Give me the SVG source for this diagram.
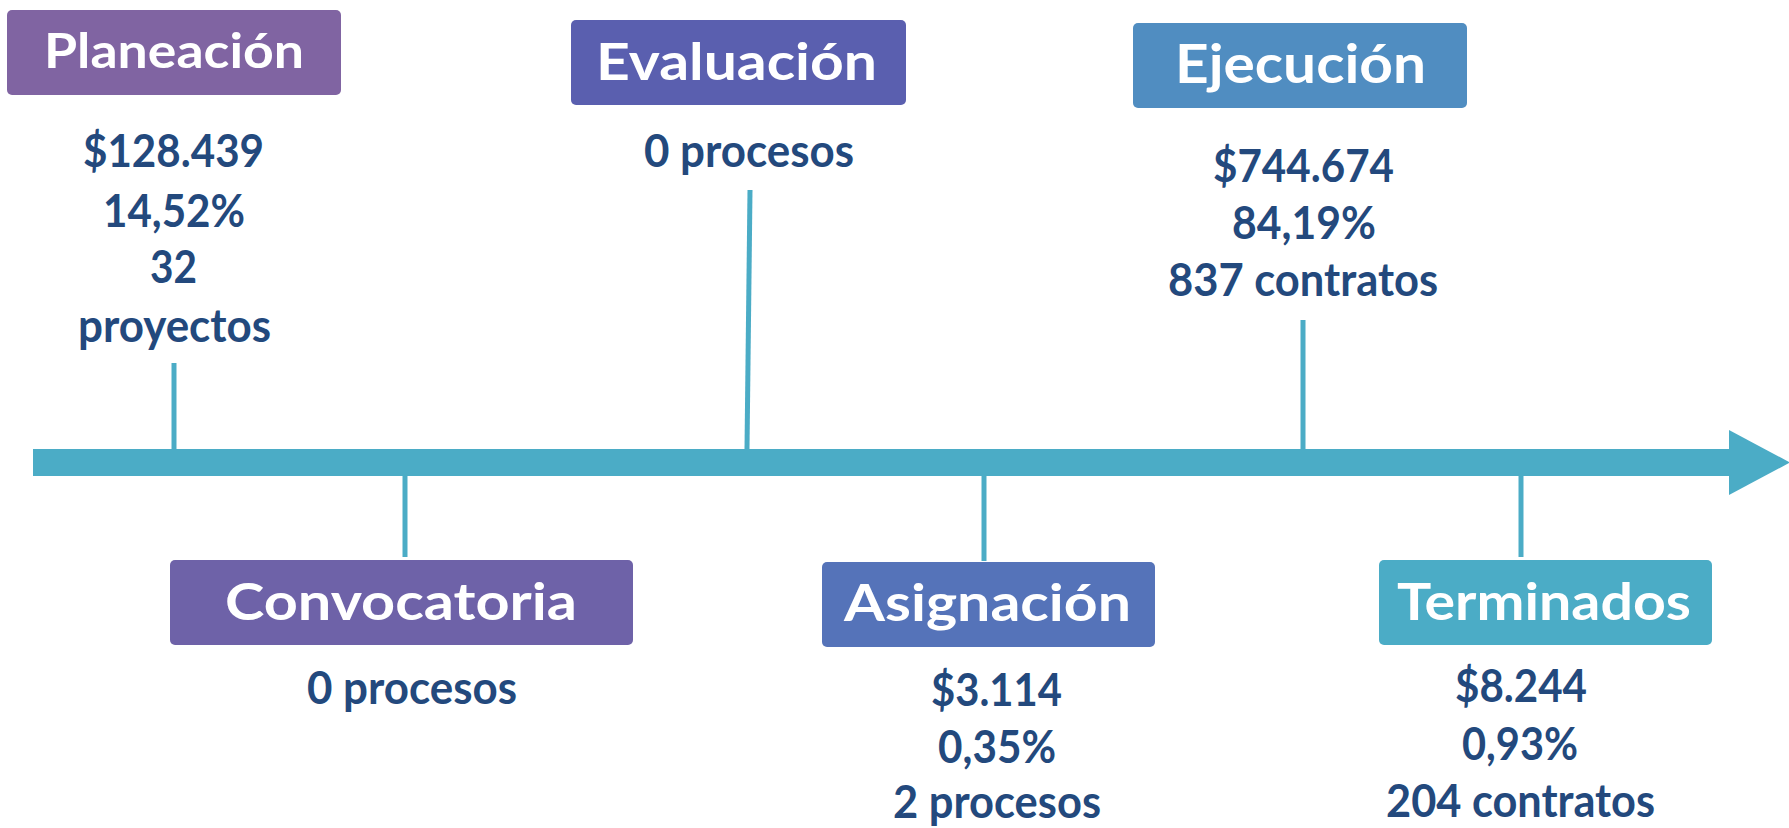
<svg xmlns="http://www.w3.org/2000/svg" width="1789" height="828" viewBox="0 0 1789 828">
<style>
.title{font-family:Lato,"Open Sans","Liberation Sans",sans-serif;font-weight:700;fill:#ffffff;text-anchor:start}
.val{font-family:Lato,"Liberation Sans",sans-serif;font-weight:700;fill:#23497D;font-size:45px}
.tick{stroke:#4BACC6;stroke-width:5;fill:none}
</style>
<rect width="1789" height="828" fill="#ffffff"/>
<g id="connectors">
<rect x="33" y="449" width="1697" height="27" fill="#4BACC6"/>
<polygon points="1729,430 1790,462.5 1729,495" fill="#4BACC6"/>
<line class="tick" x1="174" y1="363" x2="174" y2="449"/>
<line class="tick" x1="750" y1="190" x2="747" y2="449"/>
<line class="tick" x1="1303" y1="320" x2="1303" y2="449"/>
<line class="tick" x1="405" y1="476" x2="405" y2="557"/>
<line class="tick" x1="984" y1="476" x2="984" y2="561"/>
<line class="tick" x1="1521" y1="476" x2="1521" y2="557"/>
</g>
<g id="planeacion">
<rect x="7" y="10" width="334" height="85" rx="5" fill="#8064A2"/>
<text class="title" x="44" y="68" font-size="48" textLength="260" lengthAdjust="spacingAndGlyphs">Planeación</text>
<text class="val" x="83" y="167" textLength="181" lengthAdjust="spacingAndGlyphs">$128.439</text>
<text class="val" x="103" y="227" textLength="142" lengthAdjust="spacingAndGlyphs">14,52%</text>
<text class="val" x="150" y="283" textLength="47" lengthAdjust="spacingAndGlyphs">32</text>
<text class="val" x="78" y="342" textLength="193" lengthAdjust="spacingAndGlyphs">proyectos</text>
</g>
<g id="evaluacion">
<rect x="571" y="20" width="335" height="85" rx="5" fill="#5A5FAF"/>
<text class="title" x="596" y="80" font-size="52" textLength="281" lengthAdjust="spacingAndGlyphs">Evaluación</text>
<text class="val" x="644" y="167" textLength="210" lengthAdjust="spacingAndGlyphs">0 procesos</text>
</g>
<g id="ejecucion">
<rect x="1133" y="23" width="334" height="85" rx="5" fill="#508DC1"/>
<text class="title" x="1175" y="83" font-size="54" textLength="251" lengthAdjust="spacingAndGlyphs">Ejecución</text>
<text class="val" x="1213" y="182" textLength="181" lengthAdjust="spacingAndGlyphs">$744.674</text>
<text class="val" x="1232" y="239" textLength="144" lengthAdjust="spacingAndGlyphs">84,19%</text>
<text class="val" x="1168" y="296" textLength="270" lengthAdjust="spacingAndGlyphs">837 contratos</text>
</g>
<g id="convocatoria">
<rect x="170" y="560" width="463" height="85" rx="5" fill="#6E62A8"/>
<text class="title" x="225" y="620" font-size="52" textLength="352" lengthAdjust="spacingAndGlyphs">Convocatoria</text>
<text class="val" x="307" y="704" textLength="210" lengthAdjust="spacingAndGlyphs">0 procesos</text>
</g>
<g id="asignacion">
<rect x="822" y="562" width="333" height="85" rx="5" fill="#5573B9"/>
<text class="title" x="844" y="621" font-size="52" textLength="287" lengthAdjust="spacingAndGlyphs">Asignación</text>
<text class="val" x="931" y="706" textLength="131" lengthAdjust="spacingAndGlyphs">$3.114</text>
<text class="val" x="938" y="763" textLength="118" lengthAdjust="spacingAndGlyphs">0,35%</text>
<text class="val" x="893" y="818" textLength="208" lengthAdjust="spacingAndGlyphs">2 procesos</text>
</g>
<g id="terminados">
<rect x="1379" y="560" width="333" height="85" rx="5" fill="#4BACC6"/>
<text class="title" x="1397" y="620" font-size="52" textLength="294" lengthAdjust="spacingAndGlyphs">Terminados</text>
<text class="val" x="1455" y="702" textLength="132" lengthAdjust="spacingAndGlyphs">$8.244</text>
<text class="val" x="1462" y="760" textLength="116" lengthAdjust="spacingAndGlyphs">0,93%</text>
<text class="val" x="1386" y="817" textLength="269" lengthAdjust="spacingAndGlyphs">204 contratos</text>
</g>
</svg>
